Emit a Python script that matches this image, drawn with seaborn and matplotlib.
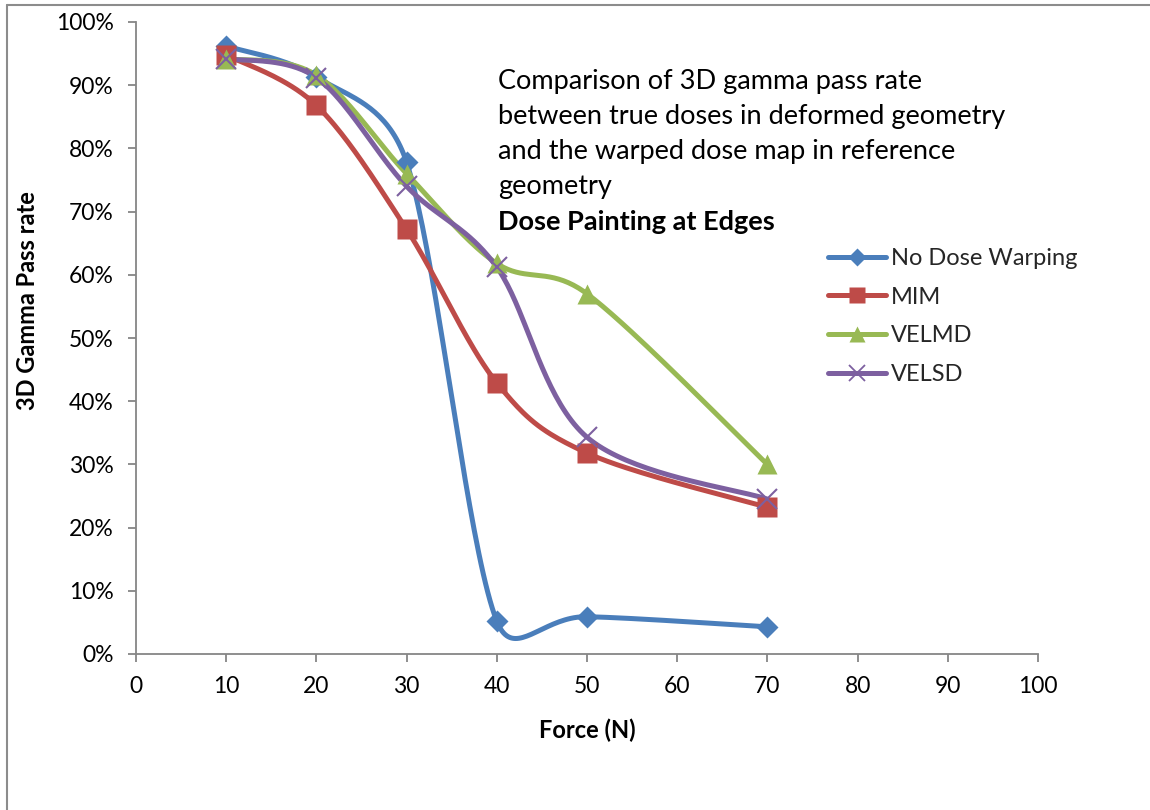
import numpy as np
import pandas as pd
import matplotlib
matplotlib.use("Agg")
import matplotlib.pyplot as plt
import seaborn as sns
from matplotlib.lines import Line2D

# Force applied (N) and 3D gamma pass rate (%) for each warping method
force = [10, 20, 30, 40, 50, 70]
no_dose_warping = [96.2, 91.3, 77.8, 5.2, 5.9, 4.3]
mim = [94.8, 86.8, 67.2, 42.9, 31.8, 23.2]
velmd = [94.2, 91.6, 76.0, 61.8, 57.0, 30.0]
velsd = [94.2, 91.2, 74.0, 61.2, 34.3, 24.5]

series_names = ["No Dose Warping", "MIM", "VELMD", "VELSD"]
series_values = [no_dose_warping, mim, velmd, velsd]
colors = ["#4A7EBB", "#BE4B48", "#98B954", "#7D60A0"]
markers = ["D", "s", "^", "x"]
marker_sizes = [11, 14, 14.5, 14]

x_ticks = list(range(0, 101, 10))
y_ticks = list(range(0, 101, 10))

note_lines = [
    "Comparison of 3D gamma pass rate",
    "between true doses in deformed geometry",
    "and the warped dose map in reference",
    "geometry",
]
note_bold = "Dose Painting at Edges"

W, H = 1150, 810
AX_L, AX_R, AX_T, AX_B = 136, 1038, 22, 654
SX = (AX_R - AX_L) / 100.0   # pixels per newton
SY = (AX_B - AX_T) / 100.0   # pixels per percent


def smooth_curve(xs, ys, steps=40):
    """Bezier smoothing through every point; tangents are taken in screen
    proportions and limited to half the length of the segment."""
    pts = np.column_stack([np.asarray(xs) * SX, np.asarray(ys) * SY]).astype(float)
    n = len(pts)

    def tangent(i, seg_len):
        a = pts[i - 1] if i > 0 else pts[i]
        b = pts[i + 1] if i + 1 < n else pts[i]
        v = (b - a) / 6.0
        L = np.hypot(*v)
        lim = seg_len / 2.0
        if L > lim and L > 0:
            v = v * lim / L
        return v

    out = []
    for i in range(n - 1):
        p1, p2 = pts[i], pts[i + 1]
        d12 = np.hypot(*(p2 - p1))
        c1 = p1 + tangent(i, d12)
        c2 = p2 - tangent(i + 1, d12)
        t = np.linspace(0, 1, steps, endpoint=(i == n - 2))[:, None]
        seg = ((1 - t) ** 3) * p1 + 3 * ((1 - t) ** 2) * t * c1 \
            + 3 * (1 - t) * t ** 2 * c2 + t ** 3 * p2
        out.append(seg)
    out = np.vstack(out)
    return out[:, 0] / SX, out[:, 1] / SY


sns.set_theme(style="white")
plt.rcParams["font.family"] = ["Lato", "DejaVu Sans"]

fig = plt.figure(figsize=(W / 100, H / 100), dpi=100)
ax = fig.add_axes([AX_L / W, 1 - AX_B / H, (AX_R - AX_L) / W, (AX_B - AX_T) / H])

for name, vals, col, mk, ms in zip(series_names, series_values, colors, markers, marker_sizes):
    sx, sy = smooth_curve(force, vals)
    curve = pd.DataFrame({"x": sx, "y": sy})
    sns.lineplot(data=curve, x="x", y="y", ax=ax, color=col, linewidth=3.6,
                 sort=False, estimator=None, solid_capstyle="round")
    if mk == "x":
        ax.plot(force, vals, linestyle="none", marker=mk, markersize=ms,
                markeredgecolor=col, markeredgewidth=1.5, zorder=4)
    else:
        ax.plot(force, vals, linestyle="none", marker=mk, markersize=ms,
                markerfacecolor=col, markeredgecolor="none", zorder=4)

ax.set_xlim(0, 100)
ax.set_ylim(0, 100)
ax.set_xticks(x_ticks)
ax.set_yticks(y_ticks)
ax.set_yticklabels([f"{v}%" for v in y_ticks])

axis_gray = "#868686"
for side in ["top", "right"]:
    ax.spines[side].set_visible(False)
for side in ["left", "bottom"]:
    ax.spines[side].set_color(axis_gray)
    ax.spines[side].set_linewidth(1.3)
ax.tick_params(axis="both", which="major", direction="out", length=6,
               width=1.3, color=axis_gray, labelsize=16.5, labelcolor="black",
               pad=10, bottom=True, left=True)
ax.grid(False)

ax.set_xlabel("Force (N)", fontsize=17, fontweight="bold", color="black")
ax.set_ylabel("3D Gamma Pass rate", fontsize=17, fontweight="bold", color="black")
ax.xaxis.set_label_coords(0.5, -0.102)
ax.yaxis.set_label_coords(-0.107, 0.56)

# Descriptive note inside the chart area
for i, line in enumerate(note_lines):
    fig.text(498 / W, 1 - (81 + i * 35.2) / H, line, fontsize=19.5,
             ha="left", va="center", color="black")
fig.text(498 / W, 1 - (81 + 4 * 35.2) / H, note_bold, fontsize=19.5,
         fontweight="bold", ha="left", va="center", color="black")

handles = []
for name, col, mk in zip(series_names, colors, markers):
    if mk == "x":
        h = Line2D([], [], color=col, linewidth=3.6, marker=mk, markersize=11,
                   markeredgecolor=col, markeredgewidth=1.3, solid_capstyle="round")
    else:
        h = Line2D([], [], color=col, linewidth=3.6, marker=mk,
                   markersize=9 if mk == "D" else 11, markerfacecolor=col,
                   markeredgecolor="none", solid_capstyle="round")
    handles.append(h)
fig.legend(handles, series_names, loc="upper left",
           bbox_to_anchor=(828 / W, 1 - 248 / H), frameon=False, fontsize=17,
           handlelength=2.45, handletextpad=0.2, labelspacing=0.75,
           borderpad=0, borderaxespad=0)

# Chart area border
fig.add_artist(Line2D([7 / W, 7 / W], [0, 1 - 5 / H], color="#8c8c8c",
                      linewidth=1.5, transform=fig.transFigure))
fig.add_artist(Line2D([7 / W, 1], [1 - 5 / H, 1 - 5 / H], color="#8c8c8c",
                      linewidth=1.5, transform=fig.transFigure))

fig.savefig("out.png", dpi=100, facecolor="white")
